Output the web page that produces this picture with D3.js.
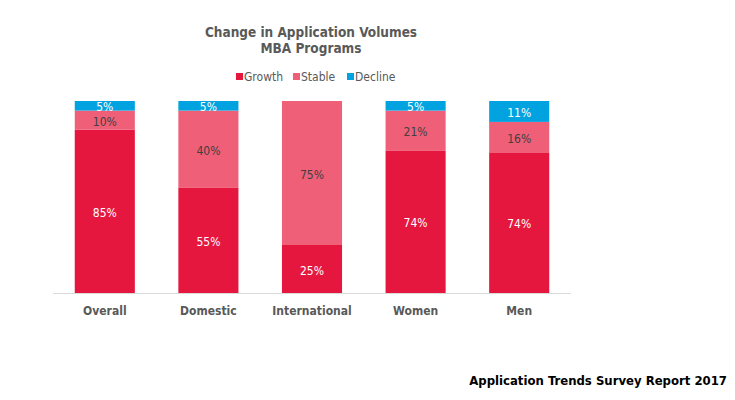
<!DOCTYPE html>
<html><head><meta charset="utf-8">
<script src="https://cdn.jsdelivr.net/npm/d3@7"></script>
<style>
body{margin:0;background:#fff;}
text{font-family:"DejaVu Sans Condensed","DejaVu Sans",sans-serif;}
</style></head><body>
<svg id="c" width="735" height="400"></svg>
<script>
const categories = ["Overall","Domestic","International","Women","Men"];
const seriesNames = ["Growth","Stable","Decline"];
const growth  = [85,55,25,74,74];
const stable  = [10,40,75,21,16];
const decline = [5,5,0,5,11];
const titleLines = ["Change in Application Volumes","MBA Programs"];
const footer = "Application Trends Survey Report 2017";
const colors = ["#E5173F","#EF5F78","#00A3E0"];
const labelColors = ["#ffffff","#404040","#ffffff"];

const rows = categories.map((c,i)=>({cat:c, Growth:growth[i], Stable:stable[i], Decline:decline[i]}));
const stack = d3.stack().keys(seriesNames).offset(d3.stackOffsetExpand);
const layers = stack(rows);

const svg = d3.select("#c");
const x = d3.scaleBand().domain(categories).range([53,571]).paddingInner(0.42).paddingOuter(0.21);
const y = d3.scaleLinear().domain([0,1]).range([293,101]);

svg.append("g").selectAll("text").data(titleLines).join("text")
  .attr("x",311).attr("y",(d,i)=>37+i*16).attr("text-anchor","middle")
  .attr("font-size",13.5).attr("font-weight","bold").attr("fill","#595959").text(d=>d);

// legend
const legX = [236,293,347];
const leg = svg.append("g").selectAll("g").data(seriesNames).join("g")
  .attr("transform",(d,i)=>`translate(${legX[i]},81)`);
leg.append("rect").attr("x",0).attr("y",-8).attr("width",7).attr("height",7).attr("fill",(d,i)=>colors[i]);
leg.append("text").attr("x",8).attr("y",0).attr("font-size",12).attr("fill","#595959").text(d=>d);

// bars
const g = svg.append("g");
layers.forEach((layer,li)=>{
  g.append("g").selectAll("rect").data(layer).join("rect")
    .attr("x",d=>x(d.data.cat)).attr("width",x.bandwidth())
    .attr("y",d=>y(d[1])).attr("height",d=>y(d[0])-y(d[1]))
    .attr("fill",colors[li]);
  g.append("g").selectAll("text").data(layer.filter(d=>d.data[layer.key]>0)).join("text")
    .attr("x",d=>x(d.data.cat)+x.bandwidth()/2)
    .attr("y",d=>(y(d[0])+y(d[1]))/2+5.5)
    .attr("text-anchor","middle").attr("font-size",12).attr("fill",labelColors[li])
    .text(d=>d.data[layer.key]+"%");
});

// axis
const ax = svg.append("g").attr("transform","translate(0,293)")
  .call(d3.axisBottom(x).tickSize(0).tickPadding(13));
ax.select(".domain").attr("stroke","#d9d9d9").attr("d","M53,0.5H571");
ax.selectAll("text").attr("font-size",12).attr("font-weight","bold").attr("fill","#595959")
  .attr("font-family",'"DejaVu Sans Condensed","DejaVu Sans",sans-serif');

svg.append("text").attr("x",727).attr("y",385).attr("text-anchor","end")
  .attr("font-size",13).attr("font-weight","bold").attr("fill","#000").text(footer);
</script></body></html>
